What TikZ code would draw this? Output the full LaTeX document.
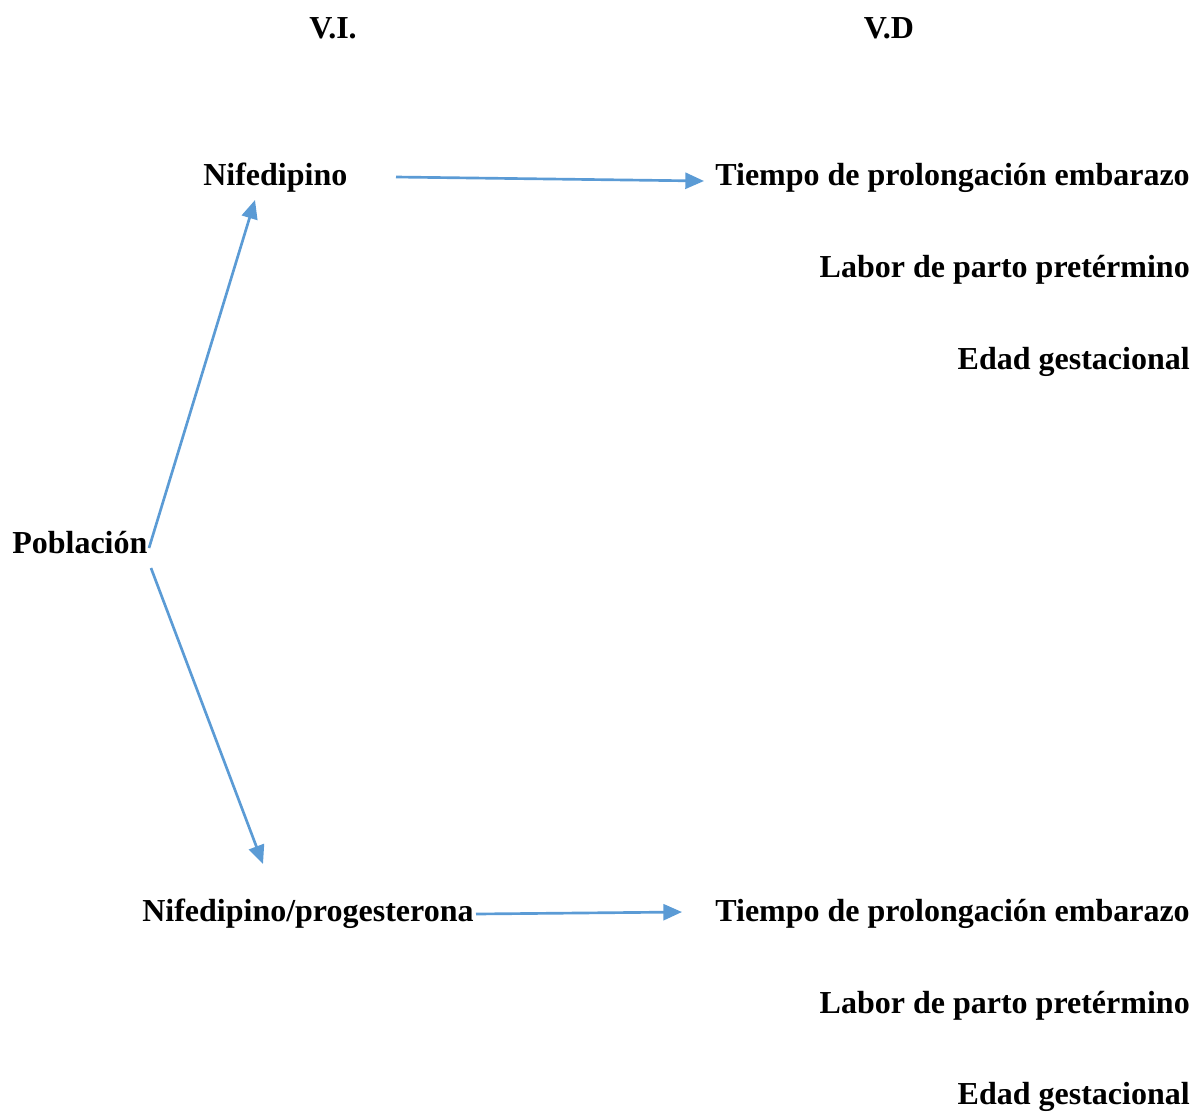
\documentclass[tikz,border=0pt]{standalone}
\usepackage{fontspec}
\setmainfont{Liberation Serif}
\usetikzlibrary{arrows.meta}
\definecolor{arrblue}{HTML}{5B9BD5}
\begin{document}
\begin{tikzpicture}[x=0.75pt,y=-0.75pt,
  lbl/.style={inner sep=0pt,font=\fontsize{24}{28}\selectfont\bfseries},
  conn/.style={draw=arrblue,line width=2pt,-{Triangle[length=14pt,width=12pt]}}]
\useasboundingbox (0,0) rectangle (1200,1115);
\node[lbl,anchor=base] (vi) at (333,38) {V.I.};
\node[lbl,anchor=base] (vd) at (889,38) {V.D};
\node[lbl,anchor=base west] (nif) at (203,185) {Nifedipino};
\node[lbl,anchor=base east] (t1) at (1190,185) {Tiempo de prolongación embarazo};
\node[lbl,anchor=base east] (l1) at (1190,277) {Labor de parto pretérmino};
\node[lbl,anchor=base east] (e1) at (1190,369) {Edad gestacional};
\node[lbl,anchor=base west] (pob) at (12,553) {Población};
\node[lbl,anchor=base west] (nifp) at (142,921) {Nifedipino/progesterona};
\node[lbl,anchor=base east] (t2) at (1190,921) {Tiempo de prolongación embarazo};
\node[lbl,anchor=base east] (l2) at (1190,1013) {Labor de parto pretérmino};
\node[lbl,anchor=base east] (e2) at (1190,1104) {Edad gestacional};
\coordinate (a1s) at (396,177);
\coordinate (a1e) at (704,181);
\coordinate (a2s) at (149,548);
\coordinate (a2e) at (255,200);
\coordinate (a3s) at (151,568);
\coordinate (a3e) at (263,864);
\coordinate (a4s) at (476,914);
\coordinate (a4e) at (682,912);
\draw[conn] (a1s) -- (a1e);
\draw[conn] (a2s) -- (a2e);
\draw[conn] (a3s) -- (a3e);
\draw[conn] (a4s) -- (a4e);
\end{tikzpicture}
\end{document}
